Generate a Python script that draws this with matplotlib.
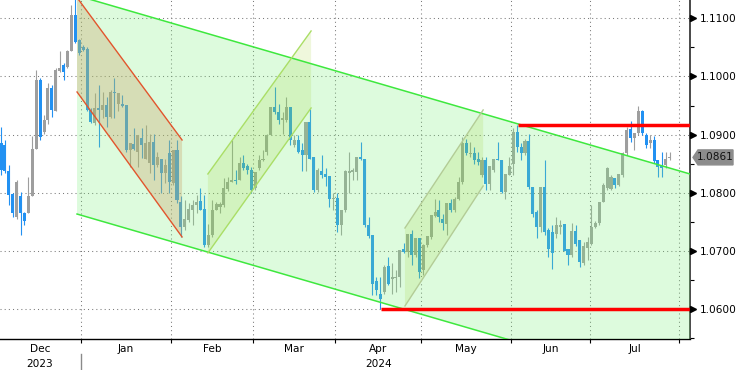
import matplotlib
matplotlib.use("Agg")
import matplotlib.pyplot as plt
import matplotlib.transforms as mtransforms
from matplotlib.patches import Polygon
from matplotlib.lines import Line2D
import numpy as np

plt.rcParams['font.family'] = ['DejaVu Sans']

# ---------------- data (EUR/USD daily candles, Dec-2023 .. Jul-2024) ----------------
opens = [1.0885, 1.0882, 1.0837, 1.0798, 1.0759, 1.0795, 1.0765, 1.0765, 1.0794, 1.0875,
         1.0994, 1.0905, 1.0925, 1.0981, 1.0941, 1.1010, 1.1019, 1.1017, 1.1043, 1.1106,
         1.1063, 1.1051, 1.1047, 1.0943, 1.0920, 1.0946, 1.0943, 1.0951, 1.0931, 1.0974,
         1.0953, 1.0953, 1.0951, 1.0874, 1.0884, 1.0871, 1.0894, 1.0859, 1.0851, 1.0887,
         1.0848, 1.0858, 1.0834, 1.0868, 1.0817, 1.0873, 1.0785, 1.0742, 1.0753, 1.0770,
         1.0779, 1.0786, 1.0772, 1.0710, 1.0727, 1.0770, 1.0776, 1.0779, 1.0806, 1.0819,
         1.0823, 1.0823, 1.0852, 1.0846, 1.0839, 1.0808, 1.0842, 1.0856, 1.0871, 1.0899,
         1.0948, 1.0939, 1.0926, 1.0925, 1.0947, 1.0882, 1.0891, 1.0874, 1.0865, 1.0922,
         1.0861, 1.0805, 1.0838, 1.0832, 1.0829, 1.0789, 1.0791, 1.0744, 1.0771, 1.0834,
         1.0836, 1.0836, 1.0861, 1.0858, 1.0745, 1.0728, 1.0649, 1.0627, 1.0630, 1.0674,
         1.0652, 1.0653, 1.0656, 1.0703, 1.0699, 1.0730, 1.0693, 1.0722, 1.0667, 1.0710,
         1.0724, 1.0760, 1.0770, 1.0756, 1.0747, 1.0783, 1.0770, 1.0790, 1.0819, 1.0885,
         1.0866, 1.0869, 1.0859, 1.0830, 1.0856, 1.0816, 1.0839, 1.0859, 1.0857, 1.0802,
         1.0830, 1.0850, 1.0905, 1.0879, 1.0868, 1.0890, 1.0810, 1.0767, 1.0742, 1.0810,
         1.0737, 1.0733, 1.0730, 1.0742, 1.0746, 1.0704, 1.0693, 1.0734, 1.0719, 1.0679,
         1.0705, 1.0713, 1.0742, 1.0748, 1.0785, 1.0808, 1.0806, 1.0826, 1.0814, 1.0831,
         1.0868, 1.0909, 1.0894, 1.0903, 1.0940, 1.0900, 1.0885, 1.0891, 1.0857, 1.0846,
         1.0848, 1.0860]
highs = [1.0913, 1.0891, 1.0848, 1.0800, 1.0822, 1.0802, 1.0768, 1.0828, 1.0897, 1.1011,
         1.0997, 1.0934, 1.0988, 1.0985, 1.1014, 1.1043, 1.1023, 1.1046, 1.1123, 1.1139,
         1.1065, 1.1054, 1.1050, 1.0945, 1.0971, 1.0985, 1.0974, 1.0965, 1.0977, 1.0997,
         1.0971, 1.0968, 1.0951, 1.0885, 1.0911, 1.0900, 1.0911, 1.0917, 1.0902, 1.0902,
         1.0870, 1.0858, 1.0859, 1.0891, 1.0874, 1.0891, 1.0794, 1.0788, 1.0782, 1.0788,
         1.0796, 1.0808, 1.0796, 1.0747, 1.0788, 1.0785, 1.0785, 1.0825, 1.0828, 1.0891,
         1.0840, 1.0862, 1.0865, 1.0850, 1.0845, 1.0836, 1.0865, 1.0873, 1.0902, 1.0948,
         1.0982, 1.0953, 1.0939, 1.0965, 1.0947, 1.0899, 1.0899, 1.0885, 1.0922, 1.0944,
         1.0861, 1.0842, 1.0865, 1.0842, 1.0829, 1.0799, 1.0799, 1.0771, 1.0839, 1.0871,
         1.0842, 1.0861, 1.0888, 1.0858, 1.0759, 1.0728, 1.0656, 1.0656, 1.0676, 1.0690,
         1.0679, 1.0667, 1.0702, 1.0714, 1.0730, 1.0736, 1.0722, 1.0722, 1.0713, 1.0726,
         1.0762, 1.0790, 1.0787, 1.0764, 1.0783, 1.0790, 1.0793, 1.0827, 1.0896, 1.0893,
         1.0888, 1.0879, 1.0870, 1.0862, 1.0862, 1.0847, 1.0859, 1.0888, 1.0857, 1.0833,
         1.0862, 1.0911, 1.0916, 1.0885, 1.0893, 1.0902, 1.0810, 1.0770, 1.0810, 1.0856,
         1.0739, 1.0744, 1.0759, 1.0753, 1.0747, 1.0704, 1.0748, 1.0745, 1.0719, 1.0716,
         1.0725, 1.0779, 1.0751, 1.0785, 1.0817, 1.0845, 1.0831, 1.0826, 1.0832, 1.0871,
         1.0914, 1.0923, 1.0903, 1.0950, 1.0943, 1.0903, 1.0900, 1.0897, 1.0857, 1.0871,
         1.0871, 1.0871]
lows = [1.0831, 1.0834, 1.0780, 1.0759, 1.0756, 1.0728, 1.0745, 1.0765, 1.0794, 1.0875,
        1.0891, 1.0902, 1.0919, 1.0931, 1.0940, 1.1008, 1.0994, 1.1014, 1.1043, 1.1057,
        1.1037, 1.1043, 1.0940, 1.0920, 1.0917, 1.0878, 1.0928, 1.0914, 1.0928, 1.0928,
        1.0940, 1.0948, 1.0871, 1.0845, 1.0874, 1.0845, 1.0860, 1.0859, 1.0834, 1.0822,
        1.0845, 1.0799, 1.0817, 1.0799, 1.0814, 1.0782, 1.0725, 1.0736, 1.0750, 1.0745,
        1.0765, 1.0770, 1.0707, 1.0707, 1.0724, 1.0770, 1.0765, 1.0776, 1.0803, 1.0819,
        1.0815, 1.0822, 1.0839, 1.0833, 1.0799, 1.0805, 1.0839, 1.0855, 1.0865, 1.0899,
        1.0936, 1.0919, 1.0902, 1.0922, 1.0882, 1.0879, 1.0868, 1.0837, 1.0837, 1.0859,
        1.0802, 1.0802, 1.0825, 1.0811, 1.0776, 1.0771, 1.0733, 1.0728, 1.0768, 1.0799,
        1.0822, 1.0822, 1.0857, 1.0742, 1.0722, 1.0625, 1.0625, 1.0601, 1.0627, 1.0641,
        1.0627, 1.0630, 1.0638, 1.0696, 1.0690, 1.0676, 1.0690, 1.0653, 1.0659, 1.0707,
        1.0721, 1.0759, 1.0750, 1.0736, 1.0727, 1.0767, 1.0767, 1.0787, 1.0816, 1.0865,
        1.0862, 1.0850, 1.0848, 1.0827, 1.0805, 1.0805, 1.0836, 1.0856, 1.0799, 1.0790,
        1.0830, 1.0830, 1.0870, 1.0856, 1.0865, 1.0807, 1.0759, 1.0722, 1.0733, 1.0727,
        1.0690, 1.0670, 1.0722, 1.0730, 1.0701, 1.0676, 1.0690, 1.0708, 1.0673, 1.0676,
        1.0685, 1.0711, 1.0739, 1.0745, 1.0785, 1.0805, 1.0805, 1.0808, 1.0811, 1.0828,
        1.0865, 1.0888, 1.0874, 1.0900, 1.0900, 1.0877, 1.0877, 1.0851, 1.0828, 1.0828,
        1.0842, 1.0857]
closes = [1.0839, 1.0837, 1.0797, 1.0765, 1.0819, 1.0765, 1.0752, 1.0794, 1.0876, 1.0994,
          1.0896, 1.0925, 1.0981, 1.0943, 1.1011, 1.1015, 1.1008, 1.1044, 1.1106, 1.1060,
          1.1040, 1.1046, 1.0942, 1.0922, 1.0945, 1.0943, 1.0951, 1.0931, 1.0974, 1.0971,
          1.0971, 1.0949, 1.0874, 1.0885, 1.0876, 1.0900, 1.0882, 1.0885, 1.0887, 1.0848,
          1.0862, 1.0834, 1.0848, 1.0819, 1.0874, 1.0788, 1.0742, 1.0756, 1.0773, 1.0779,
          1.0785, 1.0771, 1.0710, 1.0727, 1.0771, 1.0781, 1.0781, 1.0808, 1.0819, 1.0823,
          1.0821, 1.0852, 1.0843, 1.0839, 1.0805, 1.0836, 1.0856, 1.0859, 1.0899, 1.0948,
          1.0939, 1.0925, 1.0928, 1.0948, 1.0891, 1.0891, 1.0871, 1.0865, 1.0922, 1.0859,
          1.0805, 1.0839, 1.0831, 1.0828, 1.0789, 1.0792, 1.0744, 1.0771, 1.0837, 1.0838,
          1.0839, 1.0861, 1.0858, 1.0744, 1.0726, 1.0644, 1.0633, 1.0618, 1.0673, 1.0644,
          1.0656, 1.0656, 1.0702, 1.0699, 1.0730, 1.0693, 1.0722, 1.0664, 1.0710, 1.0726,
          1.0762, 1.0768, 1.0759, 1.0748, 1.0783, 1.0770, 1.0790, 1.0819, 1.0885, 1.0868,
          1.0869, 1.0856, 1.0853, 1.0856, 1.0816, 1.0847, 1.0859, 1.0856, 1.0802, 1.0833,
          1.0847, 1.0905, 1.0879, 1.0868, 1.0890, 1.0810, 1.0764, 1.0742, 1.0810, 1.0733,
          1.0704, 1.0696, 1.0744, 1.0744, 1.0701, 1.0693, 1.0734, 1.0713, 1.0682, 1.0708,
          1.0716, 1.0742, 1.0748, 1.0785, 1.0814, 1.0842, 1.0827, 1.0814, 1.0832, 1.0868,
          1.0908, 1.0894, 1.0903, 1.0940, 1.0903, 1.0883, 1.0891, 1.0854, 1.0845, 1.0842,
          1.0858, 1.0861]

# month starts (trading-day index) and labels
month_starts = [0, 21, 44, 65, 86, 108, 131, 151, 174]
month_labels = ["Dec", "Jan", "Feb", "Mar", "Apr", "May", "Jun", "Jul"]
year_labels = {"Dec": "2023", "Apr": "2024"}
price_ticks = [1.06, 1.07, 1.08, 1.09, 1.10, 1.11]
last_price = 1.0861

# drawn annotations: (start index, end index, start value, end value)
main_upper = (19.44, 176.2, 1.1139, 1.08325)
main_lower = (19.44, 176.2, 1.07637, 1.04572)
red_upper = (19.44, 46.3, 1.11356, 1.08909)
red_lower = (19.44, 46.3, 1.09734, 1.07243)
asc1_upper = (52.9, 79.3, 1.08325, 1.10782)
asc1_lower = (52.9, 79.3, 1.06968, 1.09459)
asc2_upper = (103.3, 123.3, 1.07397, 1.09425)
asc2_lower = (103.3, 123.3, 1.06057, 1.08119)
resistance = (132.2, 1.0916)
support = (97.2, 1.0600)

# ---------------- figure ----------------
W, H = 736, 370
fig = plt.figure(figsize=(W / 100, H / 100), dpi=100)
ax = fig.add_axes([0, 31 / H, 690 / W, 339 / H])
XMIN, XMAX = -0.26, 176.2
ax.set_xlim(XMIN, XMAX)
ax.set_ylim(1.0549, 1.11314)

o = np.array(opens); h = np.array(highs); l = np.array(lows); c = np.array(closes)
x = np.arange(len(o))
cols = np.where(c >= o, "#9e9e9e", "#2291f2")
ax.vlines(x, l, h, colors=cols, lw=0.8, zorder=2)
bot = np.minimum(o, c)
hgt = np.maximum(np.abs(c - o), 0.00012)
ax.bar(x, hgt, 0.78, bottom=bot, color=cols, lw=0, zorder=2.1)

# big descending channel
xs = np.array([main_upper[0], main_upper[1]])
ax.fill_between(xs, [main_lower[2], main_lower[3]], [main_upper[2], main_upper[3]],
                color="#7ef07e", alpha=0.26, lw=0, zorder=3)
for ln in (main_upper, main_lower):
    ax.plot(ln[:2], ln[2:], color="#3ee83e", lw=1.1, zorder=4)

# red (January) channel
ax.fill([red_upper[0], red_upper[1], red_lower[1], red_lower[0]],
        [red_upper[2], red_upper[3], red_lower[3], red_lower[2]],
        color="#c8a064", alpha=0.32, lw=0, zorder=3.1)
for ln in (red_upper, red_lower):
    ax.plot(ln[:2], ln[2:], color="#e2552d", lw=1.0, zorder=4)

# ascending channels
for up, lo, lc in ((asc1_upper, asc1_lower, "#aade66"), (asc2_upper, asc2_lower, "#b3cc96")):
    ax.fill([up[0], up[1], lo[1], lo[0]], [up[2], up[3], lo[3], lo[2]],
            color="#94ca16", alpha=0.15, lw=0, zorder=3.2)
    for ln in (up, lo):
        ax.plot(ln[:2], ln[2:], color=lc, lw=1.0, zorder=4)

# horizontal red levels
for start, lvl in (resistance, support):
    ax.plot([start, XMAX], [lvl, lvl], color="#ff0000", lw=2.5,
            solid_capstyle="butt", zorder=5)

# grid / ticks
bounds = [s - 0.5 for s in month_starts[1:]]
ax.set_xticks(bounds)
ax.set_xticklabels([""] * len(bounds))
ax.set_yticks(price_ticks)
ax.set_yticklabels([f"{v:.4f}" for v in price_ticks])
ax.set_yticks([v + 0.005 for v in [1.05] + price_ticks[:-1]], minor=True)
ax.yaxis.tick_right()
ax.set_axisbelow(True)
ax.grid(True, which="major", ls=(0, (1, 3)), color="#7a7a7a", lw=0.75)
ax.tick_params(axis="y", which="major", length=0, pad=7, labelsize=7.6, colors="black")
ax.tick_params(axis="y", which="minor", length=3, width=0.8, color="black")
ax.tick_params(axis="x", which="major", length=3, width=0.8, direction="out", color="black")
for s in ("top", "left"):
    ax.spines[s].set_visible(False)
ax.spines["right"].set_color("#3a3a3a")
ax.spines["right"].set_linewidth(1.3)
ax.spines["bottom"].set_color("black")
ax.spines["bottom"].set_linewidth(1.0)

tr_ay = mtransforms.blended_transform_factory(ax.transAxes, ax.transData)
ax.plot([1.0048] * len(price_ticks), price_ticks, ls="none", marker=">", ms=4.2,
        color="black", transform=tr_ay, clip_on=False, zorder=6)

tr_xa = mtransforms.blended_transform_factory(ax.transData, ax.transAxes)
starts = [-0.5] + bounds
for i, lab in enumerate(month_labels):
    mid = (starts[i] + starts[i + 1]) / 2
    ax.text(mid, -0.029, lab, transform=tr_xa, ha="center", va="center", fontsize=7.6)
    if lab in year_labels:
        ax.text(mid, -0.073, year_labels[lab], transform=tr_xa, ha="center",
                va="center", fontsize=7.6)

fig.add_artist(Line2D([81 / W, 81 / W], [0, 16 / H], color="#8a8a8a", lw=1.0))

# last price tag
tr_fy = mtransforms.blended_transform_factory(fig.transFigure, ax.transData)
hh = 7.5 / 5820
tag = Polygon([(693 / W, last_price), (698 / W, last_price + hh), (733 / W, last_price + hh),
               (733 / W, last_price - hh), (698 / W, last_price - hh)], closed=True,
              transform=tr_fy, facecolor="#8c8c8c", edgecolor="#8c8c8c", clip_on=False, zorder=7)
fig.add_artist(tag)
fig.text(715.5 / W, 0, f"{last_price:.4f}", transform=tr_fy, ha="center", va="center",
         fontsize=7.6, color="#111111", zorder=8)
fig.texts[-1].set_y(last_price)

fig.savefig("out.png", dpi=100)
